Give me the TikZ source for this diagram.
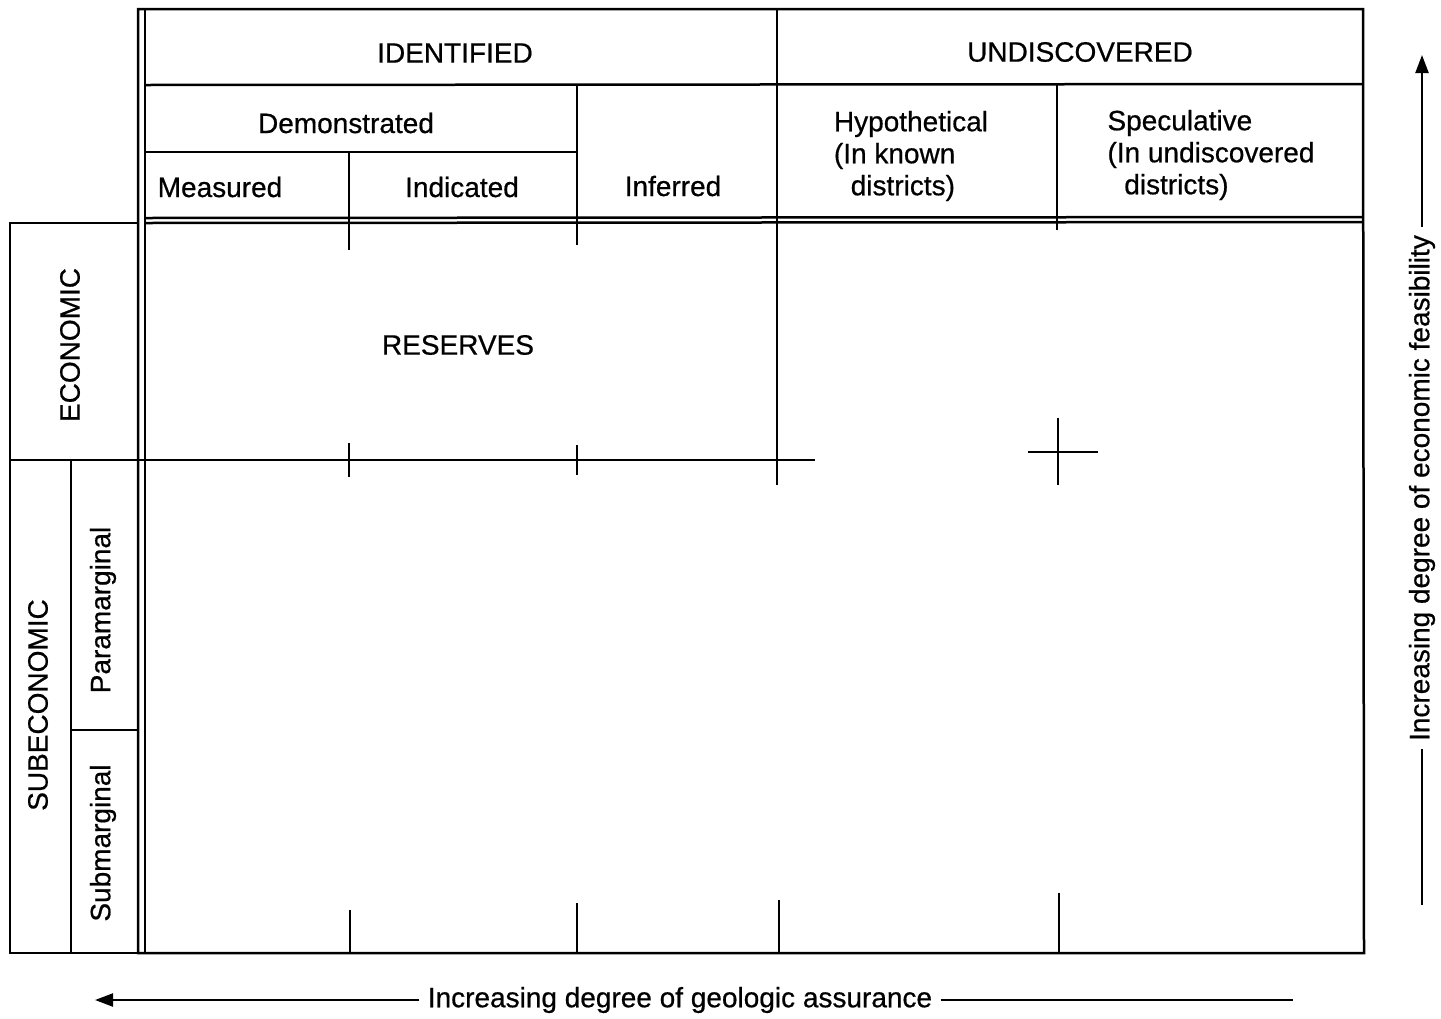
\documentclass[tikz,border=0pt]{standalone}
\usepackage{fontspec}
\setmainfont{Liberation Sans}[FakeBold=0.6]
\usetikzlibrary{arrows.meta}

\tikzset{
  grid/.style={line width=1.25pt},
  tick/.style={line width=1.25pt},
  lbl/.style={inner sep=0pt, font=\fontsize{14}{16}\selectfont},
  vlbl/.style={lbl, rotate=90}
}

\begin{document}
\begin{tikzpicture}[x=0.5pt,y=-0.5pt,>={Triangle[length=9pt,width=6.5pt]}]
\useasboundingbox (0,0) rectangle (1441,1018);
% outer frame, double left edge
\draw[grid] (138,9) -- (1363,9) -- (1364,953) -- (138,953) -- cycle;
\draw[grid] (145,9) -- (145,953);
% header rows
\draw[grid] (145,85) -- (1363,84);
\draw[grid] (145,152) -- (577,152);
\draw[grid] (145,218) -- (1363,217);
\draw[grid] (145,223) -- (1363,222);
% header columns
\draw[grid] (777,9) -- (777,485);
\draw[grid] (577,85) -- (577,245);
\draw[grid] (349,152) -- (349,250);
\draw[grid] (1057,84) -- (1057,230);
% left column
\draw[grid] (10,223) rectangle (138,953);
\draw[grid] (10,460) -- (815,460);
\draw[grid] (71,460) -- (71,953);
\draw[grid] (71,730) -- (138,730);
% ticks
\draw[tick] (349,443) -- (349,477);
\draw[tick] (577,445) -- (577,475);
\draw[tick] (1028,452) -- (1098,452);
\draw[tick] (1058,418) -- (1058,485);
\draw[tick] (350,910) -- (350,953);
\draw[tick] (577,903) -- (577,953);
\draw[tick] (779,900) -- (779,953);
\draw[tick] (1059,893) -- (1059,953);

% labels
\node[lbl] (ident) at (455,53) {IDENTIFIED};
\node[lbl] (undisc) at (1080,52) {UNDISCOVERED};
\node[lbl] (demo) at (346,123) {Demonstrated};
\node[lbl] (meas) at (220,187) {Measured};
\node[lbl] (indic) at (462,187) {Indicated};
\node[lbl] (infer) at (673,186) {Inferred};
\node[lbl, align=left] (hypo) at (911,156) {Hypothetical\\(In known\\\hspace*{0.6em}districts)};
\node[lbl, align=left] (spec) at (1211,155) {Speculative\\(In undiscovered\\\hspace*{0.6em}districts)};
\node[lbl] (resv) at (458,345) {RESERVES};
\node[vlbl] (econ) at (70,345) {ECONOMIC};
\node[vlbl] (subecon) at (38,705) {SUBECONOMIC};
\node[vlbl] (param) at (103,610) {Paramarginal};
\node[vlbl] (submarg) at (103,843) {Submarginal};

% axes
\node[lbl, inner sep=4pt] (assur) at (680,1000) {Increasing degree of geologic assurance};
\coordinate (assurL) at (95,1000);
\coordinate (assurR) at (1293,1000);
\draw[->,line width=1.1pt] (assur.west) -- (assurL);
\draw[line width=1.1pt] (assur.east) -- (assurR);
\node[vlbl, inner sep=4pt] (feas) at (1422,488) {Increasing degree of economic feasibility};
\coordinate (feasT) at (1422,55);
\coordinate (feasB) at (1422,905);
\draw[->,line width=1.1pt] (feas.east) -- (feasT);
\draw[line width=1.1pt] (feas.west) -- (feasB);
\end{tikzpicture}
\end{document}
